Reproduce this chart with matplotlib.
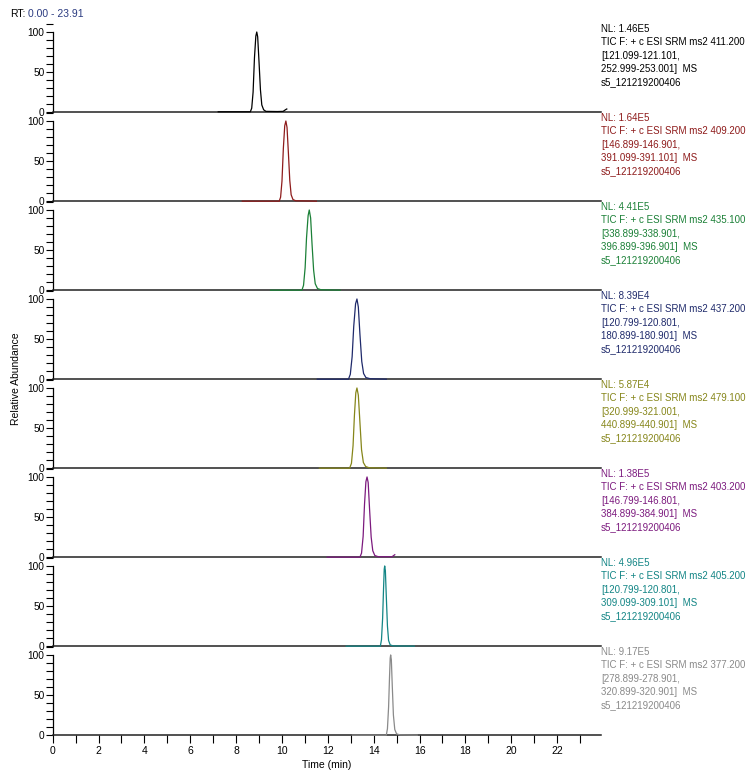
import matplotlib
matplotlib.use("Agg")
import matplotlib.pyplot as plt
from matplotlib.ticker import MultipleLocator

plt.rcParams['font.family'] = ['Liberation Sans', 'DejaVu Sans']

# retention time window
rt_range = (0.00, 23.91)

# traces: retention time (min) and relative abundance (%)
rt_411 = [7.22, 8.62, 8.68, 8.74, 8.80, 8.86, 8.90, 8.94, 9.00, 9.06, 9.12, 9.20, 9.30, 9.80, 10.05, 10.15, 10.21]
ab_411 = [0.5, 0.5, 5, 25, 68, 95, 100, 94, 62, 28, 9, 3, 1, 0.8, 1, 3, 4]

rt_409 = [8.27, 9.88, 9.94, 10.00, 10.06, 10.12, 10.17, 10.22, 10.28, 10.34, 10.40, 10.48, 10.60, 11.50]
ab_409 = [0, 0, 5, 25, 66, 94, 100, 92, 60, 26, 8, 2, 0.5, 0]

rt_435 = [9.50, 10.87, 10.94, 11.01, 11.07, 11.14, 11.19, 11.25, 11.31, 11.38, 11.45, 11.55, 11.70, 12.54]
ab_435 = [0, 0, 6, 28, 65, 93, 100, 90, 58, 25, 8, 2, 0.5, 0]

rt_437 = [11.54, 12.90, 12.98, 13.06, 13.13, 13.21, 13.27, 13.33, 13.40, 13.48, 13.56, 13.66, 13.85, 14.55]
ab_437 = [0, 0, 6, 28, 66, 94, 100, 90, 56, 22, 7, 2, 0.5, 0]

rt_479 = [11.63, 12.95, 13.03, 13.10, 13.16, 13.22, 13.27, 13.33, 13.40, 13.47, 13.55, 13.65, 13.80, 14.55]
ab_479 = [0, 0, 6, 28, 66, 94, 100, 91, 57, 23, 7, 2, 0.5, 0]

rt_403 = [11.97, 13.40, 13.47, 13.54, 13.60, 13.66, 13.71, 13.76, 13.82, 13.89, 13.96, 14.05, 14.20, 14.80, 14.87, 14.92]
ab_403 = [0, 0, 5, 26, 66, 94, 100, 93, 60, 25, 8, 2, 0.5, 0.5, 2, 3]

rt_405 = [12.80, 14.29, 14.34, 14.39, 14.43, 14.46, 14.48, 14.51, 14.55, 14.60, 14.65, 14.72, 14.85, 15.77]
ab_405 = [0, 0, 8, 35, 72, 96, 100, 94, 62, 25, 7, 1.5, 0.3, 0]

rt_377 = [13.07, 14.55, 14.60, 14.65, 14.69, 14.72, 14.74, 14.77, 14.81, 14.86, 14.92, 15.00, 15.15, 15.90]
ab_377 = [0, 0, 8, 35, 72, 96, 100, 94, 62, 25, 7, 1.5, 0.3, 0]

times = [rt_411, rt_409, rt_435, rt_437, rt_479, rt_403, rt_405, rt_377]
abund = [ab_411, ab_409, ab_435, ab_437, ab_479, ab_403, ab_405, ab_377]

nl_values = ["1.46E5", "1.64E5", "4.41E5", "8.39E4", "5.87E4", "1.38E5", "4.96E5", "9.17E5"]
precursors = ["411.200", "409.200", "435.100", "437.200", "479.100", "403.200", "405.200", "377.200"]
ranges_1 = ["121.099-121.101", "146.899-146.901", "338.899-338.901", "120.799-120.801",
            "320.999-321.001", "146.799-146.801", "120.799-120.801", "278.899-278.901"]
ranges_2 = ["252.999-253.001", "391.099-391.101", "396.899-396.901", "180.899-180.901",
            "440.899-440.901", "384.899-384.901", "309.099-309.101", "320.899-320.901"]
sample = "s5_121219200406"

colors = ["#000000", "#8e1b1b", "#1b8037", "#1f2a6b", "#86861a", "#7c1a7e", "#128585", "#8a8a8a"]

fig = plt.figure(figsize=(7.53, 7.73), dpi=100)
left, right = 0.070, 0.798
bottom, top = 0.049, 0.970
n = len(times)
h = (top - bottom) / n

for i in range(n):
    ax = fig.add_axes([left, top - (i + 1) * h, right - left, h])
    ax.plot(times[i], abund[i], color=colors[i], lw=0.9, clip_on=False, zorder=3)
    ax.set_xlim(*rt_range)
    ax.set_ylim(0, 111)
    ax.spines['top'].set_visible(False)
    ax.spines['right'].set_visible(False)
    ax.spines['left'].set_bounds(0, 100)
    ax.spines['left'].set_linewidth(0.9)
    ax.spines['bottom'].set_linewidth(1.1)
    ax.spines['bottom'].set_color('#222222')
    ax.set_yticks([0, 50, 100])
    ax.yaxis.set_minor_locator(MultipleLocator(10))
    ax.tick_params(axis='y', which='both', direction='out', length=5, width=0.8,
                   labelsize=7.3, pad=1)
    ax.patch.set_alpha(0)

    if i < n - 1:
        ax.tick_params(axis='x', which='both', bottom=False, labelbottom=False)
    else:
        ax.xaxis.set_major_locator(MultipleLocator(2))
        ax.xaxis.set_minor_locator(MultipleLocator(1))
        ax.tick_params(axis='x', which='both', direction='out', length=6, width=0.8,
                       labelsize=7.5, pad=2)
        ax.set_xlabel("Time (min)", fontsize=7.5, labelpad=3)

    # header block beside each trace
    note = "NL: {}\nTIC F: + c ESI SRM ms2 {}\n[{},\n{}]  MS\n{}".format(
        nl_values[i], precursors[i], ranges_1[i], ranges_2[i], sample)
    ax.text(1.0, 0.99, note, transform=ax.transAxes, ha='left', va='top',
            fontsize=7.0, color=colors[i], linespacing=1.42, clip_on=False)

fig.text(0.013, 0.982, "RT:", fontsize=7.5, color='black', va='center', ha='left')
fig.text(0.037, 0.982, "0.00 - 23.91", fontsize=7.5, color='#2a3a80', va='center', ha='left')
fig.text(0.021, 0.51, "Relative Abundance", rotation=90, fontsize=7.5, va='center', ha='center')

fig.savefig("out.png", dpi=100)
